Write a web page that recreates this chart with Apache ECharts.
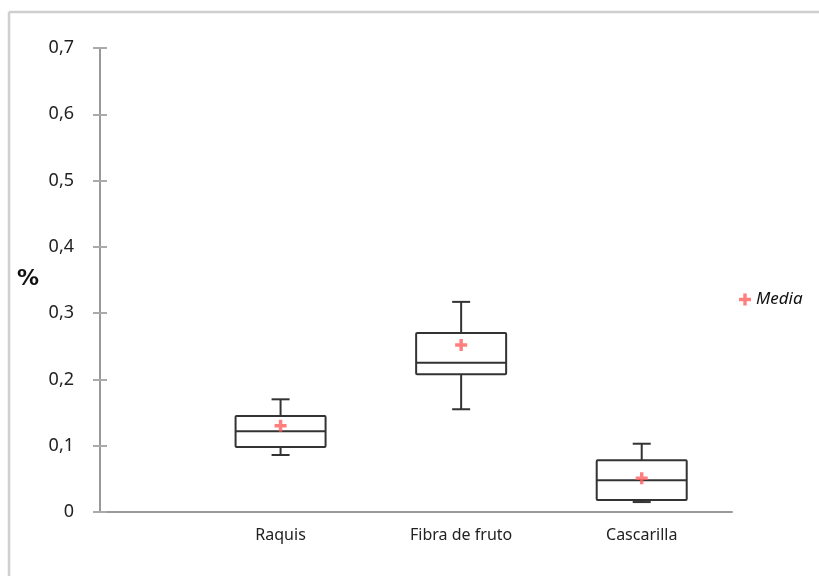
<!DOCTYPE html>
<html>
<head>
<meta charset="utf-8">
<script src="https://cdn.jsdelivr.net/npm/echarts@6/dist/echarts.min.js"></script>
<style>html,body{margin:0;padding:0;background:#fff}#c{width:819px;height:576px}</style>
</head>
<body>
<div id="c"></div>
<script>
var categories = ["Raquis", "Fibra de fruto", "Cascarilla"];
var whiskerLow = [0.086, 0.155, 0.015];
var q1 = [0.098, 0.208, 0.018];
var median = [0.122, 0.225, 0.048];
var q3 = [0.145, 0.270, 0.078];
var whiskerHigh = [0.170, 0.317, 0.103];
var means = [0.130, 0.252, 0.051];
var yTicks = [0, 0.1, 0.2, 0.3, 0.4, 0.5, 0.6, 0.7];

var boxData = categories.map(function (c, i) {
  return [i + 1, whiskerLow[i], q1[i], median[i], q3[i], whiskerHigh[i]];
});
var meanData = categories.map(function (c, i) { return [i + 1, means[i]]; });

var chart = echarts.init(document.getElementById('c'));
var lineColor = '#333';
var fontMain = '"Noto Sans", "DejaVu Sans", sans-serif';
var plusPath = 'path://M5,0 L9,0 L9,5 L14,5 L14,9 L9,9 L9,14 L5,14 L5,9 L0,9 L0,5 L5,5 Z';

chart.setOption({
  animation: false,
  backgroundColor: '#fff',
  graphic: [
    { type: 'line', shape: { x1: 9, y1: 12, x2: 819, y2: 12 }, style: { stroke: '#cfcfcf', lineWidth: 2.5 } },
    { type: 'line', shape: { x1: 9, y1: 12, x2: 9, y2: 576 }, style: { stroke: '#cfcfcf', lineWidth: 2.5 } },
    { type: 'text', left: 17, top: 268, style: { text: '%', font: 'bold 22px "DejaVu Sans", sans-serif', fill: '#111' } }
  ],
  grid: { left: 100, top: 48, width: 632, height: 464, containLabel: false },
  legend: {
    left: 734, top: 286, orient: 'vertical',
    itemWidth: 12, itemHeight: 12, itemGap: 4,
    textStyle: { fontSize: 17, fontStyle: 'italic', color: '#111', fontFamily: fontMain },
    data: [{ name: 'Media', icon: plusPath }]
  },
  xAxis: {
    type: 'value', min: 0, max: 3.5, interval: 1,
    splitLine: { show: false },
    axisLine: { show: true, lineStyle: { color: '#999', width: 2 } },
    axisTick: { show: false },
    axisLabel: {
      margin: 15, fontSize: 16, color: '#222', fontFamily: fontMain,
      formatter: function (v) { return categories[Math.round(v) - 1] || ''; },
      showMaxLabel: false
    }
  },
  yAxis: [{
    type: 'value', min: 0, max: 0.7, interval: 0.1,
    splitLine: { show: false },
    axisLine: { show: true, lineStyle: { color: '#999', width: 2 } },
    axisTick: { show: true, length: 7, inside: false, lineStyle: { color: '#aaa', width: 2 } },
    axisLabel: {
      margin: 26, fontSize: 18, color: '#222', fontFamily: fontMain,
      formatter: function (v) { return String(Math.round(v * 10) / 10).replace('.', ','); }
    }
  }, {
    type: 'value', min: 0, max: 0.7, interval: 0.1, position: 'left', offset: 0,
    splitLine: { show: false },
    axisLine: { show: false },
    axisTick: { show: true, length: 7, inside: true, lineStyle: { color: '#aaa', width: 2 } },
    axisLabel: { show: false }
  }],
  series: [
    {
      type: 'custom',
      name: 'box',
      data: boxData,
      encode: { x: 0, y: [1, 2, 3, 4, 5] },
      renderItem: function (params, api) {
        var x = api.value(0);
        var pLow = api.coord([x, api.value(1)]);
        var pQ1 = api.coord([x, api.value(2)]);
        var pMed = api.coord([x, api.value(3)]);
        var pQ3 = api.coord([x, api.value(4)]);
        var pHigh = api.coord([x, api.value(5)]);
        var cx = pMed[0];
        var hw = 45, cw = 9;
        var st = { stroke: lineColor, lineWidth: 2, fill: 'none' };
        return {
          type: 'group',
          children: [
            { type: 'rect', shape: { x: cx - hw, y: pQ3[1], width: hw * 2, height: pQ1[1] - pQ3[1], r: 1 }, style: { stroke: lineColor, lineWidth: 2, fill: 'rgba(0,0,0,0)' } },
            { type: 'line', shape: { x1: cx - hw, y1: pMed[1], x2: cx + hw, y2: pMed[1] }, style: st },
            { type: 'line', shape: { x1: cx, y1: pQ3[1], x2: cx, y2: pHigh[1] }, style: st },
            { type: 'line', shape: { x1: cx, y1: pQ1[1], x2: cx, y2: pLow[1] }, style: st },
            { type: 'line', shape: { x1: cx - cw, y1: pHigh[1], x2: cx + cw, y2: pHigh[1] }, style: st },
            { type: 'line', shape: { x1: cx - cw, y1: pLow[1], x2: cx + cw, y2: pLow[1] }, style: st }
          ]
        };
      },
      z: 2
    },
    {
      type: 'scatter',
      name: 'Media',
      data: meanData,
      symbol: plusPath,
      symbolSize: 12,
      itemStyle: { color: '#ff5f5f' },
      z: 3
    }
  ]
});
</script>
</body>
</html>
